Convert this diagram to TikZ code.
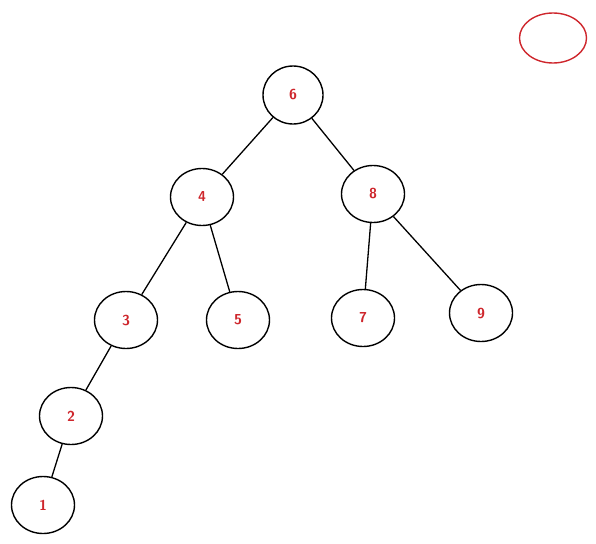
\documentclass[tikz,border=0pt]{standalone}
\usepackage{tikz}
\usetikzlibrary{shapes.geometric}
\definecolor{numred}{RGB}{206,38,44}

\begin{document}
\begin{tikzpicture}[x=1pt, y=-1pt,
  vertex/.style={ellipse, draw=black, line width=1.4pt, minimum width=63pt, minimum height=57pt, inner sep=0pt, text=numred, font=\Large\sffamily\bfseries},
  branch/.style={line width=1.3pt}]
  \useasboundingbox (0,0) rectangle (596,543);
  \node[vertex, minimum width=60pt, minimum height=58pt] (n6) at (293, 95) {6};
  \node[vertex] (n4) at (202, 197) {4};
  \node[vertex] (n8) at (373, 194) {8};
  \node[vertex] (n3) at (126, 320) {3};
  \node[vertex] (n5) at (238, 320) {5};
  \node[vertex] (n7) at (363, 318) {7};
  \node[vertex] (n9) at (481, 313) {9};
  \node[vertex] (n2) at (71, 416) {2};
  \node[vertex] (n1) at (43, 505) {1};
  \node[ellipse, draw=numred, line width=1.4pt, minimum width=67pt, minimum height=50pt] (mark) at (553, 38) {};
\draw[branch] (n6) -- (n4);
\draw[branch] (n6) -- (n8);
\draw[branch] (n4) -- (n3);
\draw[branch] (n4) -- (n5);
\draw[branch] (n8) -- (n7);
\draw[branch] (n8) -- (n9);
\draw[branch] (n3) -- (n2);
\draw[branch] (n2) -- (n1);
\end{tikzpicture}
\end{document}
